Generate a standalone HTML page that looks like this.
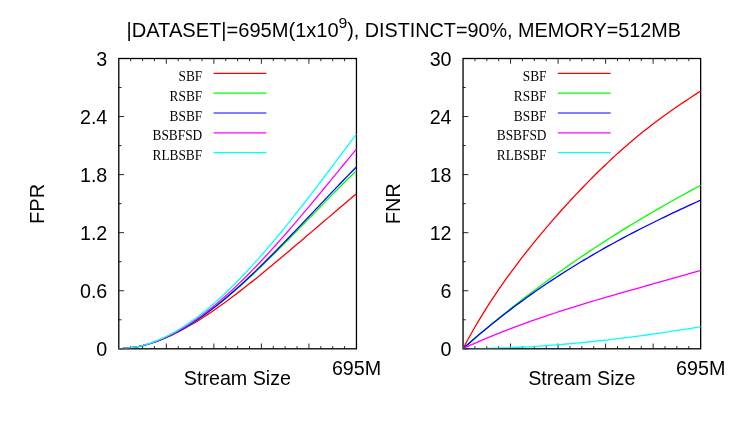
<!DOCTYPE html>
<html><head><meta charset="utf-8"><title>chart</title>
<style>
html,body{margin:0;padding:0;background:#fff;}
svg{display:block;will-change:transform}
.sa{font-family:"Liberation Sans",sans-serif;font-size:19.7px;fill:#000}
.se{font-family:"Liberation Serif",serif;font-size:13.35px;fill:#000}
.cv path{fill:none;stroke-width:1.3;stroke-linejoin:round}
</style></head><body>
<svg width="747" height="432" viewBox="0 0 747 432">
<rect width="747" height="432" fill="#fff"/>
<!-- title -->
<text transform="translate(126.50,37.10) scale(1,1.06)" textLength="212.2" lengthAdjust="spacingAndGlyphs" class="sa">|DATASET|=695M(1x10</text>
<text transform="translate(338.50,27.70) scale(1,1.06)" textLength="8.8" lengthAdjust="spacingAndGlyphs" style="font-size:14.2px" class="sa">9</text>
<text transform="translate(347.20,37.10) scale(1,1.06)" textLength="333.7" lengthAdjust="spacingAndGlyphs" class="sa">), DISTINCT=90%, MEMORY=512MB</text>
<defs>
<clipPath id="cl"><rect x="118.8" y="58.5" width="237.95" height="289.85"/></clipPath>
<clipPath id="cr"><rect x="463.05" y="58.5" width="237.89999999999998" height="289.85"/></clipPath>
</defs>
<!-- frames -->
<rect x="118.8" y="58.5" width="237.64999999999998" height="290.3" fill="none" stroke="#000" stroke-width="1.3"/>
<path d="M130.68,348.8v-2.7M130.68,58.5v2.7M142.56,348.8v-2.7M142.56,58.5v2.7M154.45,348.8v-2.7M154.45,58.5v2.7M166.33,348.8v-5.3M166.33,58.5v5.3M178.21,348.8v-2.7M178.21,58.5v2.7M190.09,348.8v-2.7M190.09,58.5v2.7M201.98,348.8v-2.7M201.98,58.5v2.7M213.86,348.8v-5.3M213.86,58.5v5.3M225.74,348.8v-2.7M225.74,58.5v2.7M237.62,348.8v-2.7M237.62,58.5v2.7M249.51,348.8v-2.7M249.51,58.5v2.7M261.39,348.8v-5.3M261.39,58.5v5.3M273.27,348.8v-2.7M273.27,58.5v2.7M285.15,348.8v-2.7M285.15,58.5v2.7M297.04,348.8v-2.7M297.04,58.5v2.7M308.92,348.8v-5.3M308.92,58.5v5.3M320.80,348.8v-2.7M320.80,58.5v2.7M332.69,348.8v-2.7M332.69,58.5v2.7M344.57,348.8v-2.7M344.57,58.5v2.7M118.8,58.50h5.3M118.8,87.53h2.7M118.8,116.56h5.3M118.8,145.59h2.7M118.8,174.62h5.3M118.8,203.65h2.7M118.8,232.68h5.3M118.8,261.71h2.7M118.8,290.74h5.3M118.8,319.77h2.7M118.8,348.80h5.3" stroke="#000" stroke-width="0.85" fill="none"/>
<rect x="463.05" y="58.5" width="237.59999999999997" height="290.3" fill="none" stroke="#000" stroke-width="1.3"/>
<path d="M474.93,348.8v-2.7M474.93,58.5v2.7M486.81,348.8v-2.7M486.81,58.5v2.7M498.69,348.8v-2.7M498.69,58.5v2.7M510.57,348.8v-5.3M510.57,58.5v5.3M522.45,348.8v-2.7M522.45,58.5v2.7M534.33,348.8v-2.7M534.33,58.5v2.7M546.21,348.8v-2.7M546.21,58.5v2.7M558.09,348.8v-5.3M558.09,58.5v5.3M569.97,348.8v-2.7M569.97,58.5v2.7M581.85,348.8v-2.7M581.85,58.5v2.7M593.73,348.8v-2.7M593.73,58.5v2.7M605.61,348.8v-5.3M605.61,58.5v5.3M617.49,348.8v-2.7M617.49,58.5v2.7M629.37,348.8v-2.7M629.37,58.5v2.7M641.25,348.8v-2.7M641.25,58.5v2.7M653.13,348.8v-5.3M653.13,58.5v5.3M665.01,348.8v-2.7M665.01,58.5v2.7M676.89,348.8v-2.7M676.89,58.5v2.7M688.77,348.8v-2.7M688.77,58.5v2.7M463.05,58.50h5.3M463.05,87.53h2.7M463.05,116.56h5.3M463.05,145.59h2.7M463.05,174.62h5.3M463.05,203.65h2.7M463.05,232.68h5.3M463.05,261.71h2.7M463.05,290.74h5.3M463.05,319.77h2.7M463.05,348.80h5.3" stroke="#000" stroke-width="0.85" fill="none"/>
<g class="cv" clip-path="url(#cl)">
<path d="M118.80,348.55 L122.83,348.46 L126.86,348.19 L130.88,347.76 L134.91,347.16 L138.94,346.41 L142.97,345.50 L147.00,344.44 L151.02,343.25 L155.05,341.92 L159.08,340.46 L163.11,338.88 L167.14,337.18 L171.16,335.36 L175.19,333.43 L179.22,331.40 L183.25,329.27 L187.28,327.04 L191.30,324.73 L195.33,322.33 L199.36,319.84 L203.39,317.28 L207.42,314.64 L211.44,311.94 L215.47,309.17 L219.50,306.34 L223.53,303.45 L227.56,300.50 L231.58,297.51 L235.61,294.46 L239.64,291.38 L243.67,288.25 L247.69,285.08 L251.72,281.88 L255.75,278.65 L259.78,275.38 L263.81,272.09 L267.83,268.78 L271.86,265.45 L275.89,262.09 L279.92,258.72 L283.95,255.34 L287.97,251.94 L292.00,248.53 L296.03,245.11 L300.06,241.69 L304.09,238.26 L308.11,234.82 L312.14,231.38 L316.17,227.94 L320.20,224.51 L324.23,221.07 L328.25,217.63 L332.28,214.20 L336.31,210.77 L340.34,207.35 L344.37,203.93 L348.39,200.52 L352.42,197.11 L356.45,193.71" stroke="#ff0000"/>
<path d="M118.80,348.55 L122.83,348.46 L126.86,348.21 L130.88,347.78 L134.91,347.19 L138.94,346.44 L142.97,345.54 L147.00,344.48 L151.02,343.27 L155.05,341.92 L159.08,340.43 L163.11,338.80 L167.14,337.03 L171.16,335.14 L175.19,333.12 L179.22,330.97 L183.25,328.70 L187.28,326.32 L191.30,323.83 L195.33,321.23 L199.36,318.52 L203.39,315.72 L207.42,312.81 L211.44,309.82 L215.47,306.73 L219.50,303.56 L223.53,300.30 L227.56,296.96 L231.58,293.55 L235.61,290.07 L239.64,286.52 L243.67,282.91 L247.69,279.23 L251.72,275.50 L255.75,271.72 L259.78,267.89 L263.81,264.01 L267.83,260.08 L271.86,256.13 L275.89,252.13 L279.92,248.11 L283.95,244.05 L287.97,239.98 L292.00,235.88 L296.03,231.77 L300.06,227.64 L304.09,223.51 L308.11,219.37 L312.14,215.23 L316.17,211.09 L320.20,206.96 L324.23,202.84 L328.25,198.73 L332.28,194.64 L336.31,190.57 L340.34,186.52 L344.37,182.50 L348.39,178.51 L352.42,174.56 L356.45,170.65" stroke="#00ff00"/>
<path d="M118.80,348.55 L122.83,348.46 L126.86,348.20 L130.88,347.78 L134.91,347.19 L138.94,346.43 L142.97,345.53 L147.00,344.46 L151.02,343.25 L155.05,341.89 L159.08,340.39 L163.11,338.75 L167.14,336.97 L171.16,335.06 L175.19,333.03 L179.22,330.86 L183.25,328.58 L187.28,326.18 L191.30,323.67 L195.33,321.04 L199.36,318.31 L203.39,315.48 L207.42,312.54 L211.44,309.51 L215.47,306.39 L219.50,303.18 L223.53,299.88 L227.56,296.50 L231.58,293.05 L235.61,289.52 L239.64,285.92 L243.67,282.25 L247.69,278.52 L251.72,274.73 L255.75,270.88 L259.78,266.98 L263.81,263.03 L267.83,259.03 L271.86,255.00 L275.89,250.92 L279.92,246.81 L283.95,242.67 L287.97,238.50 L292.00,234.31 L296.03,230.09 L300.06,225.87 L304.09,221.62 L308.11,217.37 L312.14,213.11 L316.17,208.85 L320.20,204.59 L324.23,200.34 L328.25,196.09 L332.28,191.86 L336.31,187.64 L340.34,183.45 L344.37,179.27 L348.39,175.12 L352.42,171.00 L356.45,166.92" stroke="#0000ff"/>
<path d="M118.80,348.55 L122.83,348.46 L126.86,348.20 L130.88,347.76 L134.91,347.16 L138.94,346.39 L142.97,345.46 L147.00,344.36 L151.02,343.12 L155.05,341.72 L159.08,340.17 L163.11,338.48 L167.14,336.64 L171.16,334.66 L175.19,332.55 L179.22,330.31 L183.25,327.93 L187.28,325.43 L191.30,322.80 L195.33,320.06 L199.36,317.20 L203.39,314.22 L207.42,311.14 L211.44,307.94 L215.47,304.65 L219.50,301.25 L223.53,297.75 L227.56,294.17 L231.58,290.49 L235.61,286.72 L239.64,282.87 L243.67,278.93 L247.69,274.92 L251.72,270.84 L255.75,266.68 L259.78,262.46 L263.81,258.17 L267.83,253.82 L271.86,249.41 L275.89,244.94 L279.92,240.43 L283.95,235.86 L287.97,231.25 L292.00,226.60 L296.03,221.90 L300.06,217.18 L304.09,212.41 L308.11,207.62 L312.14,202.81 L316.17,197.97 L320.20,193.11 L324.23,188.24 L328.25,183.35 L332.28,178.45 L336.31,173.55 L340.34,168.64 L344.37,163.74 L348.39,158.83 L352.42,153.93 L356.45,149.05" stroke="#ff00ff"/>
<path d="M118.80,348.55 L122.83,348.46 L126.86,348.18 L130.88,347.72 L134.91,347.09 L138.94,346.28 L142.97,345.30 L147.00,344.15 L151.02,342.84 L155.05,341.36 L159.08,339.73 L163.11,337.94 L167.14,336.01 L171.16,333.92 L175.19,331.69 L179.22,329.32 L183.25,326.81 L187.28,324.16 L191.30,321.38 L195.33,318.47 L199.36,315.44 L203.39,312.29 L207.42,309.01 L211.44,305.63 L215.47,302.12 L219.50,298.51 L223.53,294.80 L227.56,290.98 L231.58,287.06 L235.61,283.05 L239.64,278.94 L243.67,274.74 L247.69,270.46 L251.72,266.09 L255.75,261.64 L259.78,257.12 L263.81,252.52 L267.83,247.86 L271.86,243.12 L275.89,238.33 L279.92,233.47 L283.95,228.56 L287.97,223.59 L292.00,218.57 L296.03,213.50 L300.06,208.39 L304.09,203.24 L308.11,198.05 L312.14,192.83 L316.17,187.58 L320.20,182.29 L324.23,176.99 L328.25,171.66 L332.28,166.31 L336.31,160.95 L340.34,155.58 L344.37,150.20 L348.39,144.82 L352.42,139.43 L356.45,134.04" stroke="#00ffff"/>
<path d="M213.55,73.35H266.40" stroke="#ff0000" style="stroke-width:1.2"/>
<text transform="translate(202.20,80.95) scale(1,1.11)" text-anchor="end" class="se">SBF</text>
<path d="M213.55,93.18H266.40" stroke="#00ff00" style="stroke-width:1.2"/>
<text transform="translate(202.20,100.78) scale(1,1.11)" text-anchor="end" class="se">RSBF</text>
<path d="M213.55,113.01H266.40" stroke="#0000ff" style="stroke-width:1.2"/>
<text transform="translate(202.20,120.61) scale(1,1.11)" text-anchor="end" class="se">BSBF</text>
<path d="M213.55,132.84H266.40" stroke="#ff00ff" style="stroke-width:1.2"/>
<text transform="translate(202.20,140.44) scale(1,1.11)" text-anchor="end" class="se">BSBFSD</text>
<path d="M213.55,152.67H266.40" stroke="#00ffff" style="stroke-width:1.2"/>
<text transform="translate(202.20,160.27) scale(1,1.11)" text-anchor="end" class="se">RLBSBF</text>
</g>
<g class="cv" clip-path="url(#cr)">
<path d="M463.05,348.55 L467.08,341.03 L471.10,333.76 L475.13,326.74 L479.16,319.93 L483.19,313.32 L487.21,306.91 L491.24,300.67 L495.27,294.59 L499.29,288.67 L503.32,282.88 L507.35,277.23 L511.38,271.69 L515.40,266.27 L519.43,260.95 L523.46,255.72 L527.48,250.59 L531.51,245.55 L535.54,240.58 L539.57,235.69 L543.59,230.88 L547.62,226.13 L551.65,221.45 L555.67,216.84 L559.70,212.28 L563.73,207.79 L567.76,203.36 L571.78,198.99 L575.81,194.68 L579.84,190.43 L583.86,186.23 L587.89,182.10 L591.92,178.03 L595.94,174.01 L599.97,170.06 L604.00,166.17 L608.03,162.35 L612.05,158.58 L616.08,154.88 L620.11,151.25 L624.13,147.68 L628.16,144.18 L632.19,140.74 L636.22,137.37 L640.24,134.06 L644.27,130.82 L648.30,127.65 L652.32,124.53 L656.35,121.48 L660.38,118.49 L664.41,115.55 L668.43,112.67 L672.46,109.84 L676.49,107.05 L680.51,104.31 L684.54,101.60 L688.57,98.92 L692.60,96.27 L696.62,93.63 L700.65,91.00" stroke="#ff0000"/>
<path d="M463.05,348.55 L467.08,345.00 L471.10,341.49 L475.13,338.01 L479.16,334.56 L483.19,331.14 L487.21,327.75 L491.24,324.39 L495.27,321.07 L499.29,317.77 L503.32,314.51 L507.35,311.27 L511.38,308.07 L515.40,304.89 L519.43,301.75 L523.46,298.63 L527.48,295.54 L531.51,292.48 L535.54,289.44 L539.57,286.44 L543.59,283.46 L547.62,280.51 L551.65,277.58 L555.67,274.68 L559.70,271.81 L563.73,268.96 L567.76,266.14 L571.78,263.34 L575.81,260.57 L579.84,257.83 L583.86,255.10 L587.89,252.40 L591.92,249.73 L595.94,247.08 L599.97,244.45 L604.00,241.84 L608.03,239.26 L612.05,236.70 L616.08,234.16 L620.11,231.64 L624.13,229.14 L628.16,226.66 L632.19,224.21 L636.22,221.77 L640.24,219.36 L644.27,216.96 L648.30,214.59 L652.32,212.23 L656.35,209.89 L660.38,207.57 L664.41,205.27 L668.43,202.99 L672.46,200.72 L676.49,198.48 L680.51,196.25 L684.54,194.03 L688.57,191.83 L692.60,189.65 L696.62,187.49 L700.65,185.34" stroke="#00ff00"/>
<path d="M463.05,348.55 L467.08,344.99 L471.10,341.48 L475.13,338.02 L479.16,334.60 L483.19,331.23 L487.21,327.90 L491.24,324.62 L495.27,321.39 L499.29,318.19 L503.32,315.05 L507.35,311.94 L511.38,308.87 L515.40,305.85 L519.43,302.87 L523.46,299.92 L527.48,297.02 L531.51,294.15 L535.54,291.33 L539.57,288.54 L543.59,285.78 L547.62,283.06 L551.65,280.38 L555.67,277.73 L559.70,275.12 L563.73,272.54 L567.76,269.99 L571.78,267.48 L575.81,265.00 L579.84,262.54 L583.86,260.12 L587.89,257.73 L591.92,255.37 L595.94,253.03 L599.97,250.72 L604.00,248.44 L608.03,246.19 L612.05,243.96 L616.08,241.76 L620.11,239.58 L624.13,237.43 L628.16,235.30 L632.19,233.19 L636.22,231.10 L640.24,229.04 L644.27,226.99 L648.30,224.97 L652.32,222.97 L656.35,220.98 L660.38,219.01 L664.41,217.06 L668.43,215.13 L672.46,213.21 L676.49,211.31 L680.51,209.43 L684.54,207.55 L688.57,205.70 L692.60,203.85 L696.62,202.02 L700.65,200.20" stroke="#0000ff"/>
<path d="M463.05,348.55 L467.08,346.71 L471.10,344.91 L475.13,343.13 L479.16,341.38 L483.19,339.66 L487.21,337.97 L491.24,336.30 L495.27,334.66 L499.29,333.05 L503.32,331.46 L507.35,329.89 L511.38,328.35 L515.40,326.83 L519.43,325.33 L523.46,323.86 L527.48,322.40 L531.51,320.97 L535.54,319.56 L539.57,318.16 L543.59,316.78 L547.62,315.42 L551.65,314.08 L555.67,312.75 L559.70,311.44 L563.73,310.15 L567.76,308.87 L571.78,307.60 L575.81,306.35 L579.84,305.10 L583.86,303.87 L587.89,302.65 L591.92,301.45 L595.94,300.25 L599.97,299.06 L604.00,297.87 L608.03,296.70 L612.05,295.53 L616.08,294.37 L620.11,293.22 L624.13,292.07 L628.16,290.93 L632.19,289.79 L636.22,288.65 L640.24,287.51 L644.27,286.38 L648.30,285.25 L652.32,284.12 L656.35,282.99 L660.38,281.85 L664.41,280.72 L668.43,279.58 L672.46,278.45 L676.49,277.30 L680.51,276.16 L684.54,275.01 L688.57,273.85 L692.60,272.69 L696.62,271.52 L700.65,270.35" stroke="#ff00ff"/>
<path d="M463.05,348.85 L467.08,348.82 L471.10,348.78 L475.13,348.72 L479.16,348.66 L483.19,348.57 L487.21,348.48 L491.24,348.37 L495.27,348.25 L499.29,348.11 L503.32,347.96 L507.35,347.80 L511.38,347.62 L515.40,347.44 L519.43,347.24 L523.46,347.02 L527.48,346.80 L531.51,346.56 L535.54,346.31 L539.57,346.05 L543.59,345.78 L547.62,345.49 L551.65,345.19 L555.67,344.88 L559.70,344.56 L563.73,344.23 L567.76,343.89 L571.78,343.53 L575.81,343.16 L579.84,342.79 L583.86,342.40 L587.89,342.00 L591.92,341.58 L595.94,341.16 L599.97,340.73 L604.00,340.29 L608.03,339.83 L612.05,339.37 L616.08,338.89 L620.11,338.41 L624.13,337.92 L628.16,337.41 L632.19,336.90 L636.22,336.37 L640.24,335.84 L644.27,335.29 L648.30,334.74 L652.32,334.18 L656.35,333.60 L660.38,333.02 L664.41,332.43 L668.43,331.83 L672.46,331.22 L676.49,330.61 L680.51,329.98 L684.54,329.35 L688.57,328.70 L692.60,328.05 L696.62,327.39 L700.65,326.72" stroke="#00ffff"/>
<path d="M557.80,73.35H610.65" stroke="#ff0000" style="stroke-width:1.2"/>
<text transform="translate(546.45,80.95) scale(1,1.11)" text-anchor="end" class="se">SBF</text>
<path d="M557.80,93.18H610.65" stroke="#00ff00" style="stroke-width:1.2"/>
<text transform="translate(546.45,100.78) scale(1,1.11)" text-anchor="end" class="se">RSBF</text>
<path d="M557.80,113.01H610.65" stroke="#0000ff" style="stroke-width:1.2"/>
<text transform="translate(546.45,120.61) scale(1,1.11)" text-anchor="end" class="se">BSBF</text>
<path d="M557.80,132.84H610.65" stroke="#ff00ff" style="stroke-width:1.2"/>
<text transform="translate(546.45,140.44) scale(1,1.11)" text-anchor="end" class="se">BSBFSD</text>
<path d="M557.80,152.67H610.65" stroke="#00ffff" style="stroke-width:1.2"/>
<text transform="translate(546.45,160.27) scale(1,1.11)" text-anchor="end" class="se">RLBSBF</text>
</g>
<text transform="translate(107.30,65.60) scale(1,1.06)" text-anchor="end" class="sa">3</text>
<text transform="translate(107.30,123.70) scale(1,1.06)" text-anchor="end" class="sa">2.4</text>
<text transform="translate(107.30,181.80) scale(1,1.06)" text-anchor="end" class="sa">1.8</text>
<text transform="translate(107.30,239.90) scale(1,1.06)" text-anchor="end" class="sa">1.2</text>
<text transform="translate(107.30,298.00) scale(1,1.06)" text-anchor="end" class="sa">0.6</text>
<text transform="translate(107.30,356.10) scale(1,1.06)" text-anchor="end" class="sa">0</text>
<text transform="translate(451.55,65.60) scale(1,1.06)" text-anchor="end" class="sa">30</text>
<text transform="translate(451.55,123.70) scale(1,1.06)" text-anchor="end" class="sa">24</text>
<text transform="translate(451.55,181.80) scale(1,1.06)" text-anchor="end" class="sa">18</text>
<text transform="translate(451.55,239.90) scale(1,1.06)" text-anchor="end" class="sa">12</text>
<text transform="translate(451.55,298.00) scale(1,1.06)" text-anchor="end" class="sa">6</text>
<text transform="translate(451.55,356.10) scale(1,1.06)" text-anchor="end" class="sa">0</text>
<text transform="translate(356.50,375.40) scale(1,1.06)" text-anchor="middle" class="sa">695M</text>
<text transform="translate(700.70,375.40) scale(1,1.06)" text-anchor="middle" class="sa">695M</text>
<text transform="translate(237.40,385.20) scale(1,1.06)" text-anchor="middle" class="sa">Stream Size</text>
<text transform="translate(581.80,385.20) scale(1,1.06)" text-anchor="middle" class="sa">Stream Size</text>
<text transform="translate(43.70,203.90) rotate(-90) scale(1,1.06)" text-anchor="middle" textLength="40.0" lengthAdjust="spacingAndGlyphs" class="sa">FPR</text>
<text transform="translate(400.40,203.80) rotate(-90) scale(1,1.06)" text-anchor="middle" textLength="41.0" lengthAdjust="spacingAndGlyphs" class="sa">FNR</text>
</svg>
</body></html>
